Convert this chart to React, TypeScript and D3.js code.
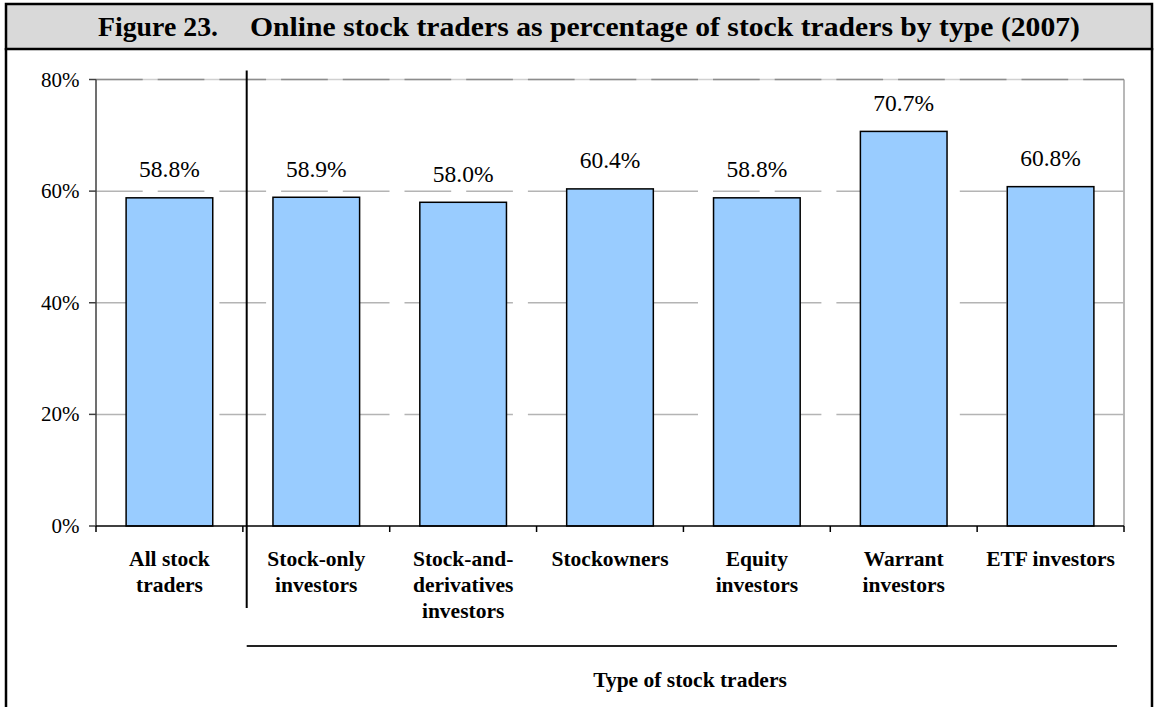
import React from "react";
import * as d3 from "d3";

const categories: string[][] = [
  ["All stock", "traders"],
  ["Stock-only", "investors"],
  ["Stock-and-", "derivatives", "investors"],
  ["Stockowners"],
  ["Equity", "investors"],
  ["Warrant", "investors"],
  ["ETF investors"],
];
const values: number[] = [58.8, 58.9, 58.0, 60.4, 58.8, 70.7, 60.8];
const yTicks: number[] = [0, 20, 40, 60, 80];
const titleLead = "Figure 23.";
const titleText = "Online stock traders as percentage of stock traders by type (2007)";
const axisTitle = "Type of stock traders";

const W = 1155;
const H = 707;
const plotLeft = 96;
const plotRight = 1124;
const plotTop = 79.5;
const plotBottom = 526;
const serif = "'Liberation Serif', 'Times New Roman', serif";

export default function App() {
  const idx = categories.map((_, i) => String(i));
  const x = d3
    .scaleBand<string>()
    .domain(idx)
    .range([plotLeft, plotRight])
    .paddingInner(0.41)
    .paddingOuter(0.205);
  const y = d3.scaleLinear().domain([0, 80]).range([plotBottom, plotTop]);
  const step = x.step();
  const boundaries = d3.range(categories.length + 1).map((i) => plotLeft + i * step);
  const dividerX = 246.7;

  return (
    <svg
      width={W}
      height={H}
      style={{ position: "absolute", left: 0, top: 0, background: "#fff" }}
    >
      {/* title band */}
      <rect x={6} y={4} width={1146} height={45} fill="#D9D9D9" stroke="#000" strokeWidth={2.5} />
      <line x1={6} y1={48} x2={6} y2={H} stroke="#000" strokeWidth={2.5} />
      <line x1={1152} y1={48} x2={1152} y2={H} stroke="#000" strokeWidth={2.5} />
      <text x={98} y={36} fontFamily={serif} fontWeight="bold" fontSize={27} fill="#000"
        textLength={120} lengthAdjust="spacingAndGlyphs">
        {titleLead}
      </text>
      <text x={250} y={36} fontFamily={serif} fontWeight="bold" fontSize={27} fill="#000"
        textLength={830} lengthAdjust="spacingAndGlyphs">
        {titleText}
      </text>

      {/* plot top & right border */}
      <line x1={plotLeft} x2={plotRight} y1={plotTop} y2={plotTop} stroke="#d0d0d0" strokeWidth={1.5} />
      <line x1={plotRight} x2={plotRight} y1={plotTop} y2={plotBottom} stroke="#a0a0a0" strokeWidth={1.5} />
      {/* gridlines */}
      {yTicks.filter((t) => t > 0).map((t) => (
        <line
          key={"g" + t}
          x1={plotLeft}
          x2={plotRight}
          y1={y(t)}
          y2={y(t)}
          stroke={t === 80 ? "#8c8c8c" : "#b4b4b4"}
          strokeWidth={1.5}
          strokeDasharray="46.7 15"
        />
      ))}

      {/* bars */}
      {values.map((v, i) => (
        <g key={"b" + i}>
          <rect
            x={x(String(i))}
            y={y(v)}
            width={x.bandwidth()}
            height={y(0) - y(v)}
            fill="#99CCFF"
            stroke="#000"
            strokeWidth={1.5}
          />
          <text
            x={(x(String(i)) as number) + x.bandwidth() / 2}
            y={y(v) - 20.4}
            textAnchor="middle"
            fontFamily={serif}
            fontSize={23.5}
            fill="#000"
          >
            {v.toFixed(1) + "%"}
          </text>
        </g>
      ))}

      {/* y axis */}
      <line x1={plotLeft} x2={plotLeft} y1={plotTop} y2={plotBottom} stroke="#404040" strokeWidth={1.5} />
      {yTicks.map((t) => (
        <g key={"y" + t}>
          <line x1={plotLeft - 7} x2={plotLeft} y1={y(t)} y2={y(t)} stroke="#404040" strokeWidth={1.5} />
          <text
            x={79.5}
            y={y(t) + 7}
            textAnchor="end"
            fontFamily={serif}
            fontSize={21}
            fill="#000"
          >
            {t + "%"}
          </text>
        </g>
      ))}

      {/* x axis */}
      <line x1={plotLeft} x2={plotRight} y1={plotBottom} y2={plotBottom} stroke="#000" strokeWidth={1.5} />
      {boundaries.map((bx, i) => (
        <line key={"t" + i} x1={bx} x2={bx} y1={plotBottom} y2={plotBottom + 6} stroke="#000" strokeWidth={1.5} />
      ))}
      {categories.map((lines, i) => (
        <text
          key={"c" + i}
          x={(x(String(i)) as number) + x.bandwidth() / 2}
          y={565.7}
          textAnchor="middle"
          fontFamily={serif}
          fontWeight="bold"
          fontSize={21.5}
          fill="#000"
        >
          {lines.map((l, j) => (
            <tspan key={j} x={(x(String(i)) as number) + x.bandwidth() / 2} dy={j === 0 ? 0 : 26.2}>
              {l}
            </tspan>
          ))}
        </text>
      ))}

      {/* divider */}
      <line x1={dividerX} x2={dividerX} y1={70.5} y2={608} stroke="#000" strokeWidth={2} />
      {/* axis title rule */}
      <line x1={dividerX} x2={1117} y1={646} y2={646} stroke="#222" strokeWidth={2} />
      <text
        x={690}
        y={686.7}
        textAnchor="middle"
        fontFamily={serif}
        fontWeight="bold"
        fontSize={21.5}
        fill="#000"
      >
        {axisTitle}
      </text>
    </svg>
  );
}
